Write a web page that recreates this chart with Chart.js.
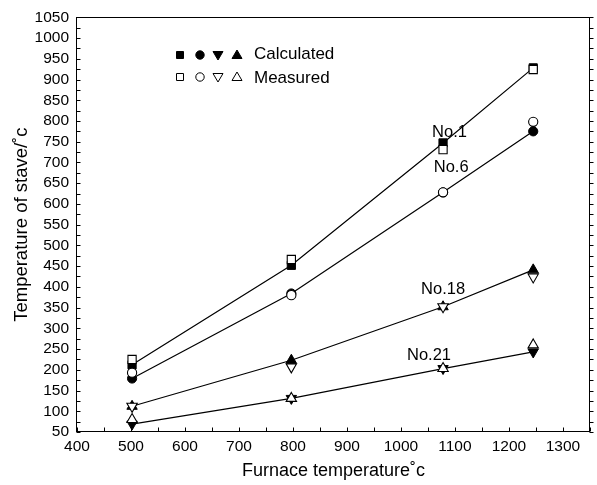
<!DOCTYPE html>
<html>
<head>
<meta charset="utf-8">
<script src="https://cdn.jsdelivr.net/npm/chart.js@4.4.1/dist/chart.umd.min.js"></script>
<style>
html, body { margin: 0; padding: 0; background: #fff; }
#wrap { width: 597px; height: 485px; }
</style>
</head>
<body>
<div id="wrap"><canvas id="graph"></canvas></div>
<script>
// furnace temperature (x) for the four measurement points
const furnaceTemps = [502, 797, 1078, 1245];

// stave temperature, calculated / measured
const no1Calc = [212, 452, 747, 928];
const no1Meas = [225, 466, 731, 924];
const no6Calc = [179, 384, 628, 775];
const no6Meas = [193, 380, 628, 798];
const no18Calc = [112, 223, 352, 441];
const no18Meas = [112, 207, 352, 424];
const no21Calc = [69, 131, 203, 243];
const no21Meas = [80, 131, 203, 260];

// stave labels and where they sit (data units)
const staveNames = ['No.1', 'No.6', 'No.18', 'No.21'];
const staveLabelX = [1090, 1093, 1078, 1052];
const staveLabelY = [772, 689, 394, 235];

const xTickLabels = [400, 500, 600, 700, 800, 900, 1000, 1100, 1200, 1300];
const yTickLabels = [50, 100, 150, 200, 250, 300, 350, 400, 450, 500, 550,
                     600, 650, 700, 750, 800, 850, 900, 950, 1000, 1050];

const FONT = "'Liberation Sans', Arial, Helvetica, sans-serif";
Chart.defaults.font.family = FONT;
Chart.defaults.color = '#000';

const pts = vals => furnaceTemps.map((t, i) => ({ x: t, y: vals[i] }));

const measured = (vals, style, rot, r) => ({
    data: pts(vals),
    showLine: false,
    pointStyle: style,
    rotation: rot,
    pointRadius: r,
    pointBackgroundColor: '#fff',
    pointBorderColor: '#000',
    pointBorderWidth: 1.1
});
const calculated = (vals, style, rot, r) => ({
    data: pts(vals),
    showLine: true,
    borderColor: '#000',
    borderWidth: 1.2,
    pointStyle: style,
    rotation: rot,
    pointRadius: r,
    pointBackgroundColor: '#000',
    pointBorderColor: '#000',
    pointBorderWidth: 1
});

// first datasets are drawn on top, so measured (open) markers go first
const datasets = [
    measured(no1Meas, 'rect', 0, 5.8),
    measured(no6Meas, 'circle', 0, 4.6),
    measured(no18Meas, 'triangle', 180, 6),
    measured(no21Meas, 'triangle', 0, 6),
    calculated(no1Calc, 'rect', 0, 5.8),
    calculated(no6Calc, 'circle', 0, 4.6),
    calculated(no18Calc, 'triangle', 0, 6),
    calculated(no21Calc, 'triangle', 180, 6)
];

/****** marker helper for the legend ******/
function marker(ctx, kind, x, y, filled) {
    ctx.beginPath();
    if (kind === 'rect') {
        ctx.rect(x - 3.5, y - 3.5, 7, 7);
    } else if (kind === 'circle') {
        ctx.arc(x, y, 4.2, 0, Math.PI * 2);
    } else {
        const s = kind === 'down' ? -1 : 1;
        ctx.moveTo(x, y - s * 5);
        ctx.lineTo(x + 5, y + s * 3.5);
        ctx.lineTo(x - 5, y + s * 3.5);
        ctx.closePath();
    }
    ctx.fillStyle = filled ? '#000' : '#fff';
    ctx.fill();
    ctx.stroke();
}

/****** frame, inward ticks, labels, legend ******/
const decor = {
    id: 'decor',
    afterDraw(chart) {
        const { ctx, chartArea: a, scales: { x, y } } = chart;
        ctx.save();
        ctx.strokeStyle = '#000';
        ctx.lineWidth = 1;
        const L = Math.round(a.left) - 0.5, R = Math.round(a.right) - 0.5;
        const T = Math.round(a.top) + 0.5, B = Math.round(a.bottom) - 0.5;
        ctx.strokeRect(L, T, R - L, B - T);

        ctx.beginPath();
        for (let v = 400; v <= 1350; v += 50) {
            const px = Math.round(x.getPixelForValue(v)) + 0.5;
            ctx.moveTo(px, B); ctx.lineTo(px, B - 4);
        }
        for (let v = 50; v <= 1050; v += 25) {
            const py = Math.round(y.getPixelForValue(v)) + 0.5;
            ctx.moveTo(L, py); ctx.lineTo(L + 4, py);
            ctx.moveTo(R, py); ctx.lineTo(R + 4, py);
        }
        ctx.stroke();

        ctx.fillStyle = '#000';
        ctx.font = '16.5px ' + FONT;
        ctx.textAlign = 'center';
        ctx.textBaseline = 'middle';
        staveNames.forEach((name, i) => {
            ctx.fillText(name, x.getPixelForValue(staveLabelX[i]), y.getPixelForValue(staveLabelY[i]));
        });

        // legend
        const kinds = ['rect', 'circle', 'down', 'up'];
        const mx = [180, 200, 218, 237];
        kinds.forEach((k, i) => {
            marker(ctx, k, mx[i], 55, true);
            marker(ctx, k, mx[i], 77, false);
        });
        ctx.fillStyle = '#000';
        ctx.textAlign = 'left';
        ctx.font = '17px ' + FONT;
        ctx.fillText('Calculated', 254, 54);
        ctx.fillText('Measured', 254, 78);
        ctx.restore();
    }
};

const config = {
    type: 'line',
    data: { datasets: datasets },
    options: {
        responsive: true,
        maintainAspectRatio: false,
        animation: false,
        events: [],
        layout: { padding: { top: 11, right: 3, left: 0, bottom: 0 } },
        plugins: {
            legend: { display: false },
            tooltip: { enabled: false }
        },
        scales: {
            x: {
                type: 'linear',
                min: 400,
                max: 1350,
                afterFit: s => { s.height = 53; },
                grid: { display: false, drawTicks: false },
                border: { display: false },
                ticks: {
                    stepSize: 50,
                    padding: 5,
                    maxRotation: 0,
                    autoSkip: false,
                    font: { size: 15.5 },
                    callback: v => xTickLabels.includes(v) ? String(v) : ''
                },
                title: {
                    display: true,
                    text: 'Furnace temperature˚c',
                    font: { size: 18 },
                    padding: { top: 0, bottom: 3 }
                }
            },
            y: {
                type: 'linear',
                min: 50,
                max: 1050,
                afterFit: s => { s.width = 77; },
                grid: { display: false, drawTicks: false },
                border: { display: false },
                ticks: {
                    stepSize: 50,
                    padding: 8,
                    autoSkip: false,
                    font: { size: 15.5 },
                    callback: v => yTickLabels.includes(v) ? String(v) : ''
                },
                title: {
                    display: true,
                    text: 'Temperature of stave/˚c',
                    font: { size: 18.5 },
                    padding: { top: 11, bottom: 0 }
                }
            }
        }
    },
    plugins: [decor]
};

const graph = new Chart(document.getElementById('graph'), config);
</script>
</body>
</html>
